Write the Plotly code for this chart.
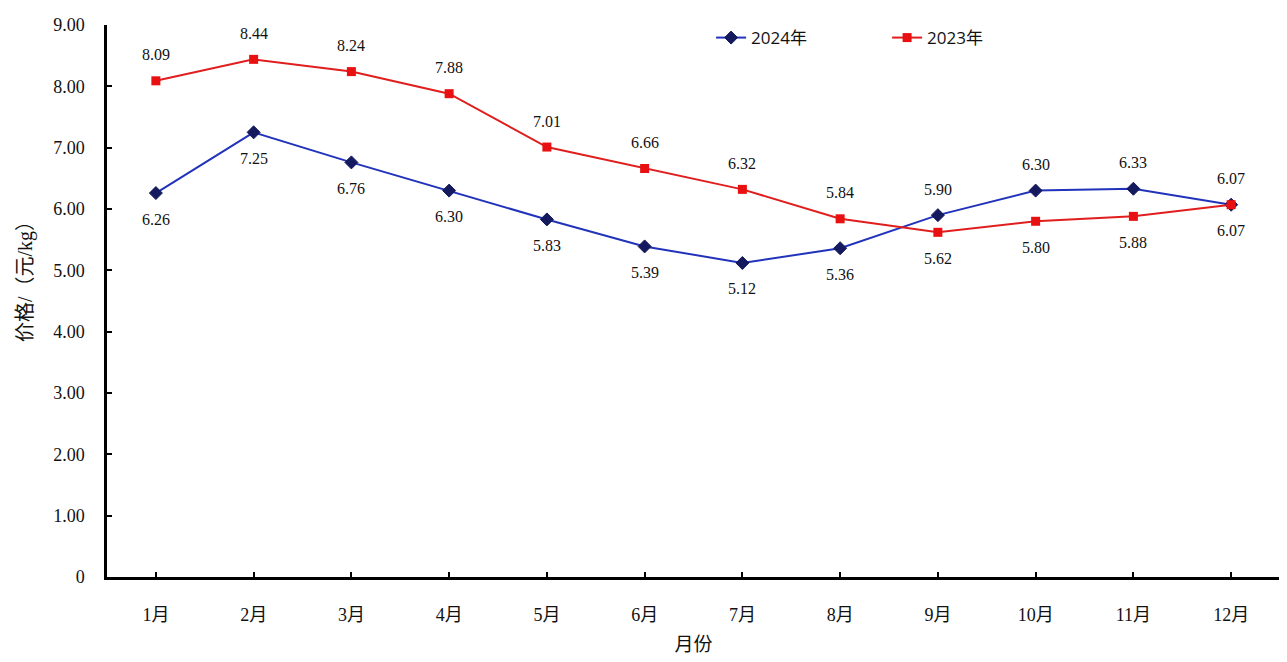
import plotly.graph_objects as go

months = ["1月", "2月", "3月", "4月", "5月", "6月", "7月", "8月", "9月", "10月", "11月", "12月"]
price_2024 = [6.26, 7.25, 6.76, 6.30, 5.83, 5.39, 5.12, 5.36, 5.90, 6.30, 6.33, 6.07]
price_2023 = [8.09, 8.44, 8.24, 7.88, 7.01, 6.66, 6.32, 5.84, 5.62, 5.80, 5.88, 6.07]
# label placement: 1 = above, -1 = below
pos_2024 = [-1, -1, -1, -1, -1, -1, -1, -1, 1, 1, 1, 1]
pos_2023 = [1, 1, 1, 1, 1, 1, 1, 1, -1, -1, -1, -1]
y_ticks = [0, 1, 2, 3, 4, 5, 6, 7, 8, 9]
y_ticktext = ["0", "1.00", "2.00", "3.00", "4.00", "5.00", "6.00", "7.00", "8.00", "9.00"]

serif = "Liberation Serif, Times New Roman, Noto Sans CJK SC, serif"
sans = "Open Sans, Noto Sans CJK SC, sans-serif"

fig = go.Figure()
fig.add_trace(go.Scatter(
    x=months, y=price_2024, name="2024年", mode="lines+markers",
    line=dict(color="#2233BB", width=2),
    marker=dict(symbol="diamond", size=10, color="#151A5E", line=dict(color="#151A5E", width=1)),
))
fig.add_trace(go.Scatter(
    x=months, y=price_2023, name="2023年", mode="lines+markers",
    line=dict(color="#E01E1E", width=2),
    marker=dict(symbol="square", size=9, color="#E81010"),
))

annotations = []
for series, pos in ((price_2024, pos_2024), (price_2023, pos_2023)):
    for m, v, p in zip(months, series, pos):
        annotations.append(dict(
            x=m, y=v, text=f"{v:.2f}", showarrow=False, yshift=26 * p,
            font=dict(family=serif, size=16, color="#111111"),
        ))

# y-axis title placed as a rotated annotation (sits a little above centre in the reference)
annotations.append(dict(
    xref="paper", yref="paper", x=-0.07, y=0.545, text="价格/（元/kg）",
    textangle=-90, showarrow=False, xanchor="center", yanchor="middle",
    font=dict(family=serif, size=20, color="#111111"),
))

fig.update_layout(
    width=1279, height=654,
    margin=dict(l=99, r=7, t=11, b=85),
    paper_bgcolor="white", plot_bgcolor="white",
    showlegend=True,
    legend=dict(orientation="h", x=0.515, y=1.009, xanchor="left", yanchor="top",
                font=dict(family=sans, size=17, color="#111111"),
                entrywidth=131, entrywidthmode="pixels",
                tracegroupgap=0, bgcolor="rgba(0,0,0,0)"),
    annotations=annotations,
    xaxis=dict(
        type="category", range=[-0.5, 11.5],
        showline=True, linecolor="black", linewidth=2.5,
        ticks="inside", ticklen=5, tickwidth=2, tickcolor="black",
        showgrid=False, zeroline=False,
        tickfont=dict(family=serif, size=18, color="#111111"),
        ticklabelstandoff=20,
        title=dict(text="月份", font=dict(family=serif, size=19, color="#111111"), standoff=14),
    ),
    yaxis=dict(
        range=[0, 9], tickvals=y_ticks, ticktext=y_ticktext,
        showline=True, linecolor="black", linewidth=2.5,
        ticks="inside", ticklen=5, tickwidth=2, tickcolor="black",
        showgrid=False, zeroline=False,
        tickfont=dict(family=serif, size=18, color="#111111"),
        ticklabelstandoff=16,
    ),
)

fig.write_html("out.html")
